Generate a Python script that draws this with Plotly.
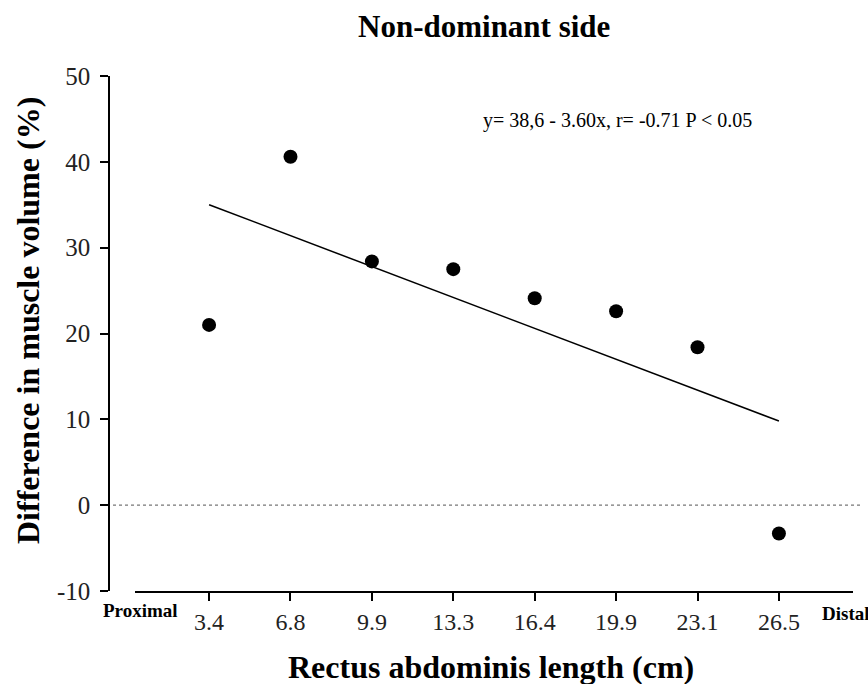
import plotly.graph_objects as go

# Data
positions_cm = ["3.4", "6.8", "9.9", "13.3", "16.4", "19.9", "23.1", "26.5"]
segment_index = [1, 2, 3, 4, 5, 6, 7, 8]
volume_diff = [21.0, 40.6, 28.4, 27.5, 24.1, 22.6, 18.4, -3.3]
fit_intercept = 38.6
fit_slope = -3.60
y_ticks = [-10, 0, 10, 20, 30, 40, 50]
y_tick_labels = ["-10", "0", "10", "20", "30", "40", "50"]

FONT = "Liberation Serif, Times New Roman, serif"

# pixel helpers (layout only)
L, R, T, B = 100, 8, 76, 93
W, H = 868, 684
pw = W - L - R
ph = H - T - B

def px(x):
    return (x - L) / pw

def py(y):
    return (H - B - y) / ph

fit_x = [segment_index[0], segment_index[-1]]
fit_y = [fit_intercept + fit_slope * v for v in fit_x]

fig = go.Figure()
fig.add_trace(go.Scatter(x=fit_x, y=fit_y, mode="lines",
                         line=dict(color="black", width=1.5),
                         showlegend=False, hoverinfo="skip"))
fig.add_trace(go.Scatter(x=segment_index, y=volume_diff, mode="markers",
                         marker=dict(color="black", size=14),
                         showlegend=False, cliponaxis=False))

fig.add_shape(type="line", xref="paper", yref="y",
              x0=px(113), x1=px(862), y0=0, y1=0,
              line=dict(color="#777777", width=1.2, dash="dot"))

fig.update_layout(
    width=W, height=H,
    margin=dict(l=L, r=R, t=T, b=B),
    paper_bgcolor="white", plot_bgcolor="white",
    font=dict(family=FONT, color="black"),
    xaxis=dict(domain=[px(135), px(853)], range=[0.09, 8.91],
               tickvals=segment_index, ticktext=positions_cm,
               showline=True, linecolor="black", linewidth=1.5,
               ticks="outside", ticklen=8, tickwidth=1.5, tickcolor="black",
               showgrid=False, zeroline=False,
               tickfont=dict(family=FONT, size=24, color="#222")),
    yaxis=dict(anchor="free", position=px(109), range=[-10, 50],
               tickvals=y_ticks, ticktext=y_tick_labels,
               showline=True, linecolor="black", linewidth=1.5,
               ticks="outside", ticklen=8, tickwidth=1.5, tickcolor="black",
               ticklabelstandoff=5,
               showgrid=False, zeroline=False,
               tickfont=dict(family=FONT, size=25, color="#222")),
    annotations=[
        dict(text="<b>Non-dominant side</b>", xref="paper", yref="paper",
             x=px(484), y=py(26), xanchor="center", yanchor="middle",
             showarrow=False, font=dict(family=FONT, size=31)),
        dict(text="<b>Difference in muscle volume (%)</b>", xref="paper", yref="paper",
             x=px(28), y=py(321), xanchor="center", yanchor="middle",
             textangle=-90, showarrow=False, font=dict(family=FONT, size=32)),
        dict(text="<b>Rectus abdominis length (cm)</b>", xref="paper", yref="paper",
             x=px(491), y=py(667), xanchor="center", yanchor="middle",
             showarrow=False, font=dict(family=FONT, size=32)),
        dict(text="y= 38,6 - 3.60x, r= -0.71 P &lt; 0.05", xref="paper", yref="paper",
             x=px(481), y=py(120), xanchor="left", yanchor="middle",
             showarrow=False, font=dict(family=FONT, size=20)),
        dict(text="<b>Proximal</b>", xref="paper", yref="paper",
             x=px(140), y=py(610), xanchor="center", yanchor="middle",
             showarrow=False, font=dict(family=FONT, size=19)),
        dict(text="<b>Distal</b>", xref="paper", yref="paper",
             x=px(820), y=py(613), xanchor="left", yanchor="middle",
             showarrow=False, font=dict(family=FONT, size=19)),
    ],
)

fig.write_html("out.html")
